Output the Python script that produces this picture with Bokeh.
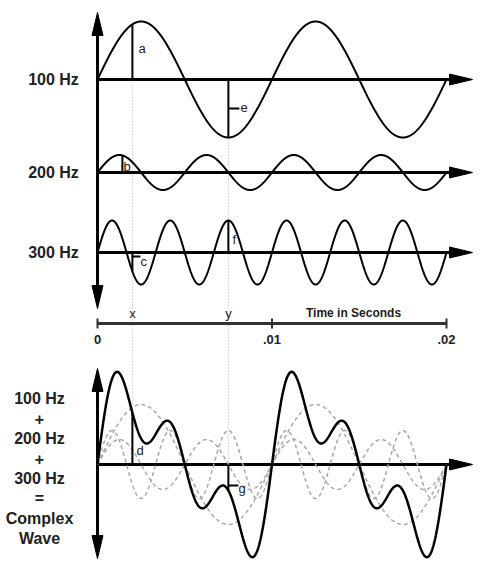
import numpy as np
from bokeh.plotting import figure
from bokeh.models import Range1d
from bokeh.core.properties import value
from bokeh.embed import file_html
from bokeh.resources import INLINE

# ---------------- data ----------------
freq_labels = ["100 Hz", "200 Hz", "300 Hz"]
freqs_hz = [100, 200, 300]
top_amplitudes = [58, 17.5, 32]      # drawn amplitude of each pure tone (top panel)
bottom_amplitudes = [60, 25, 34]     # drawn amplitude of each component (bottom panel)
duration_s = 0.02
time_ticks = [0.0, 0.01, 0.02]
time_tick_labels = ["0", ".01", ".02"]
marker_times = [0.002, 0.0075]
marker_names = ["x", "y"]
sum_labels = ["100 Hz", "+", "200 Hz", "+", "300 Hz", "=", "Complex", "Wave"]
axis_title = "Time in Seconds"

# ---------------- layout ----------------
W, H = 484, 579
OX = 97.0                 # page x of t = 0
PXS = 349.0 / 0.02        # page px per second
def tx(px):
    return (px - OX) / PXS
def dx(px):
    return px / PXS

top_bases = [79, 172, 252]
bottom_base = 464
time_axis_y = 323
axis_end_px = 452
arrow_tip_px = 472
FONT = value("Liberation Sans")

p = figure(width=W, height=H, output_backend="svg", toolbar_location=None,
           x_range=Range1d(tx(0), tx(W)), y_range=Range1d(H, 0),
           min_border=0, x_axis_location=None, y_axis_location=None)
p.grid.visible = False
p.outline_line_color = None
p.background_fill_color = "white"
p.border_fill_color = "white"

t = np.linspace(0, duration_s, 1201)

def tone(f, a, tt):
    return a * np.sin(2 * np.pi * f * np.asarray(tt))

# dotted guide lines
mx, my = marker_times
p.segment(x0=[mx, my], y0=[top_bases[0], top_bases[0] + top_amplitudes[0] - 1],
          x1=[mx, my], y1=[bottom_base, bottom_base],
          line_color="#b8b8b8", line_width=1, line_dash="1 2")

# ---- top panel: pure tones ----
for base, f, a in zip(top_bases, freqs_hz, top_amplitudes):
    p.line(t, base - tone(f, a, t), line_color="black", line_width=2)

# horizontal axes with arrows
all_bases = top_bases + [bottom_base]
p.segment(x0=[0] * 4, y0=all_bases, x1=[tx(axis_end_px)] * 4, y1=all_bases,
          line_color="black", line_width=3)
p.patches(xs=[[tx(arrow_tip_px), tx(arrow_tip_px - 23), tx(arrow_tip_px - 23)] for _ in all_bases],
          ys=[[b, b - 5.5, b + 5.5] for b in all_bases], fill_color="black", line_color="black")

# vertical axes with double arrows
p.segment(x0=[0, 0], y0=[30, 388], x1=[0, 0], y1=[290, 540], line_color="black", line_width=3)
ups = [12, 368]
downs = [308, 558]
xs, ys = [], []
for u in ups:
    xs.append([0, dx(-5.5), dx(5.5)]); ys.append([u, u + 23, u + 23])
for d in downs:
    xs.append([0, dx(-5.5), dx(5.5)]); ys.append([d, d - 23, d - 23])
p.patches(xs=xs, ys=ys, fill_color="black", line_color="black")

# time axis
p.segment(x0=[time_ticks[0]], y0=[time_axis_y], x1=[time_ticks[-1]], y1=[time_axis_y],
          line_color="#333333", line_width=3)
p.segment(x0=time_ticks, y0=[time_axis_y - 5] * 3, x1=time_ticks, y1=[time_axis_y + 5] * 3,
          line_color="#333333", line_width=2)
p.text(x=time_ticks, y=[time_axis_y + 16] * 3, text=time_tick_labels, text_font=FONT,
       text_font_style="bold", text_font_size="13px", text_align="center", text_baseline="middle",
       text_color="#222222")
p.text(x=marker_times, y=[time_axis_y - 10] * 2, text=marker_names, text_font=FONT,
       text_font_size="13px", text_align="center", text_baseline="middle", text_color="#222222")
p.text(x=[tx(353)], y=[time_axis_y - 11], text=[axis_title], text_font=FONT,
       text_font_style="bold", text_font_size="12px", text_align="center", text_baseline="middle",
       text_color="#222222")

# frequency labels (top)
p.text(x=[tx(53)] * 3, y=top_bases, text=freq_labels, text_font=FONT, text_font_style="bold",
       text_font_size="16px", text_align="center", text_baseline="middle", text_color="#222222")

# ---- bottom panel: components and complex wave ----
for f, a in zip(freqs_hz, bottom_amplitudes):
    p.line(t, bottom_base - tone(f, a, t), line_color="#a8a8a8", line_width=1.5, line_dash="4 3")
complex_wave = sum(tone(f, a, t) for f, a in zip(freqs_hz, bottom_amplitudes))
p.line(t, bottom_base - complex_wave, line_color="black", line_width=2.5)

p.text(x=[tx(39)] * len(sum_labels), y=[398 + 20 * i for i in range(len(sum_labels))],
       text=sum_labels, text_font=FONT, text_font_style="bold", text_font_size="16px",
       text_align="center", text_baseline="middle", text_color="#222222")

# ---- value markers a..g ----
def val(f, a, tt):
    return float(tone(f, a, tt))

seg_x0, seg_y0, seg_x1, seg_y1 = [], [], [], []
lab_x, lab_y, lab_t = [], [], []

# a : 100 Hz at x
ya = top_bases[0] - val(100, top_amplitudes[0], mx)
seg_x0 += [mx]; seg_y0 += [top_bases[0]]; seg_x1 += [mx]; seg_y1 += [ya]
lab_x += [mx + dx(6)]; lab_y += [(top_bases[0] + ya) / 2 - 3]; lab_t += ["a"]
# e : 100 Hz at y
ye = top_bases[0] - val(100, top_amplitudes[0], my)
seg_x0 += [my, my]; seg_y0 += [top_bases[0], (top_bases[0] + ye) / 2]
seg_x1 += [my, my + dx(11)]; seg_y1 += [ye, (top_bases[0] + ye) / 2]
lab_x += [my + dx(12)]; lab_y += [(top_bases[0] + ye) / 2 - 1]; lab_t += ["e"]
# b : 200 Hz at x
seg_x0 += [mx - dx(10)]; seg_y0 += [top_bases[1]]; seg_x1 += [mx - dx(10)]
seg_y1 += [top_bases[1] - val(200, top_amplitudes[1], mx - dx(10))]
lab_x += [mx - dx(9)]; lab_y += [top_bases[1] - 6]; lab_t += ["b"]
# c : 300 Hz at x
yc = top_bases[2] - val(300, top_amplitudes[2], mx)
seg_x0 += [mx, mx]; seg_y0 += [top_bases[2], top_bases[2] + 4]
seg_x1 += [mx, mx + dx(8)]; seg_y1 += [yc, top_bases[2] + 4]
lab_x += [mx + dx(8)]; lab_y += [top_bases[2] + 9]; lab_t += ["c"]
# f : 300 Hz at y
yf = top_bases[2] - val(300, top_amplitudes[2], my)
seg_x0 += [my]; seg_y0 += [top_bases[2]]; seg_x1 += [my]; seg_y1 += [yf]
lab_x += [my + dx(4)]; lab_y += [(top_bases[2] + yf) / 2 + 3]; lab_t += ["f"]
# d : complex at x
cx_val = sum(val(f, a, mx) for f, a in zip(freqs_hz, bottom_amplitudes))
yd = bottom_base - cx_val
seg_x0 += [mx]; seg_y0 += [bottom_base]; seg_x1 += [mx]; seg_y1 += [yd]
lab_x += [mx + dx(4)]; lab_y += [bottom_base - 14]; lab_t += ["d"]
# g : complex at y
cy_val = sum(val(f, a, my) for f, a in zip(freqs_hz, bottom_amplitudes))
yg = bottom_base - cy_val
seg_x0 += [my, my]; seg_y0 += [bottom_base, yg - 5]
seg_x1 += [my, my + dx(10)]; seg_y1 += [yg, yg - 5]
lab_x += [my + dx(10)]; lab_y += [yg - 2]; lab_t += ["g"]

p.segment(x0=seg_x0, y0=seg_y0, x1=seg_x1, y1=seg_y1, line_color="black", line_width=2)
p.text(x=lab_x, y=lab_y, text=lab_t, text_font=FONT, text_font_size="13px",
       text_align="left", text_baseline="middle", text_color="#222222")

open("out.html", "w").write(file_html(p, INLINE))
